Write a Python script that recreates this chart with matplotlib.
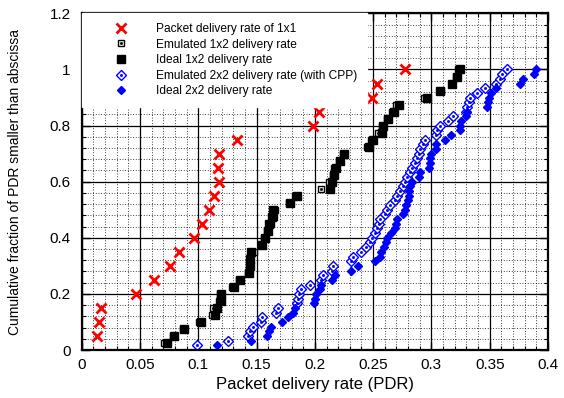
import matplotlib
matplotlib.use('Agg')
import matplotlib.pyplot as plt
import numpy as np

plt.rcParams['font.family'] = ['Liberation Sans', 'DejaVu Sans']

# 1x1 packet delivery rate (20 links)
pdr_1x1 = [0.0129, 0.0151, 0.0163, 0.0465, 0.062, 0.0757, 0.0831, 0.0963, 0.1029, 0.1089,
           0.1134, 0.118, 0.117, 0.118, 0.1329, 0.198, 0.2037, 0.2494, 0.2529, 0.2774]

# 1x2 emulated / ideal (40 points)
emu_1x2 = [0.0705, 0.0785, 0.087, 0.101, 0.112, 0.113, 0.118, 0.119, 0.129, 0.135,
           0.143, 0.1435, 0.1445, 0.148, 0.154, 0.156, 0.159, 0.1625, 0.165, 0.1655,
           0.178, 0.183, 0.2057, 0.2125, 0.2155, 0.2165, 0.2205, 0.2245, 0.245, 0.2485,
           0.2545, 0.2575, 0.262, 0.2665, 0.2695, 0.294, 0.3085, 0.3175, 0.321, 0.3228]
ideal_1x2 = [0.0734, 0.0794, 0.088, 0.1023, 0.1145, 0.116, 0.1191, 0.1197, 0.1308, 0.1357,
             0.1434, 0.144, 0.1442, 0.1451, 0.1548, 0.157, 0.16, 0.1608, 0.1634, 0.1642,
             0.1785, 0.1843, 0.2134, 0.2145, 0.2163, 0.218, 0.222, 0.2254, 0.2465, 0.25,
             0.2574, 0.2585, 0.2631, 0.2677, 0.272, 0.296, 0.307, 0.318, 0.322, 0.3248]

# 2x2 emulated (with CPP) / ideal (60 points)
emu_2x2 = [0.0986, 0.1257, 0.1423, 0.1443, 0.1466, 0.1537, 0.1545, 0.167, 0.1686, 0.1848,
           0.1857, 0.1865, 0.188, 0.1957, 0.2057, 0.2071, 0.2151, 0.2157, 0.2314, 0.2328,
           0.2394, 0.2443, 0.2471, 0.249, 0.2514, 0.2534, 0.2551, 0.2557, 0.26, 0.262,
           0.2643, 0.2685, 0.2708, 0.2728, 0.2757, 0.2775, 0.279, 0.2814, 0.2837, 0.2863,
           0.288, 0.2894, 0.2906, 0.2928, 0.2948, 0.3037, 0.3048, 0.3071, 0.3142, 0.3185,
           0.3294, 0.3305, 0.3322, 0.3328, 0.3391, 0.3457, 0.3557, 0.3585, 0.3608, 0.3648]
ideal_2x2 = [0.116, 0.1449, 0.159, 0.1605, 0.162, 0.1714, 0.177, 0.1814, 0.1828, 0.1991,
             0.2, 0.2014, 0.2043, 0.2051, 0.2151, 0.2171, 0.2308, 0.2371, 0.2514, 0.2557,
             0.2571, 0.2594, 0.2614, 0.2616, 0.2651, 0.2685, 0.27, 0.2706, 0.2757, 0.2771,
             0.2786, 0.28, 0.2805, 0.281, 0.2814, 0.2837, 0.2894, 0.29, 0.2977, 0.2985,
             0.2991, 0.3, 0.3037, 0.3043, 0.3114, 0.3171, 0.3243, 0.3248, 0.3257, 0.3294,
             0.3305, 0.3477, 0.3485, 0.3494, 0.3514, 0.3551, 0.3763, 0.3786, 0.3877, 0.3894]

xticks = [0, 0.05, 0.1, 0.15, 0.2, 0.25, 0.3, 0.35, 0.4]
xlabels = ['0', '0.05', '0.1', '0.15', '0.2', '0.25', '0.3', '0.35', '0.4']
yticks = [0, 0.2, 0.4, 0.6, 0.8, 1.0, 1.2]
ylabels = ['0', '0.2', '0.4', '0.6', '0.8', '1', '1.2']


def cdf(v):
    n = len(v)
    return np.arange(1, n + 1) / n


fig = plt.figure(figsize=(5.64, 3.98), dpi=100)
ax = fig.add_axes([81.7 / 564, 48 / 398, (548 - 81.7) / 564, (350 - 13.4) / 398])

ax.set_xlim(0, 0.4)
ax.set_ylim(0, 1.2)
ax.set_xticks(xticks)
ax.set_xticklabels(xlabels)
ax.set_xticks(np.arange(0, 0.4001, 0.01), minor=True)
ax.set_yticks(yticks)
ax.set_yticklabels(ylabels)
ax.set_yticks(np.arange(0, 1.2001, 0.04), minor=True)
ax.set_axisbelow(True)
ax.grid(which='major', color='black', lw=0.9, ls='-')
ax.grid(which='minor', color='black', lw=0.6, ls=(0, (1, 2.2)))
ax.tick_params(which='both', direction='in', top=True, right=True, labelsize=11)
ax.tick_params(axis='x', pad=6)
ax.tick_params(axis='y', pad=8)
ax.tick_params(which='major', length=6, width=1)
ax.tick_params(which='minor', length=3, width=0.8)
for s in ax.spines.values():
    s.set_linewidth(1.6)

h1, = ax.plot(pdr_1x1, cdf(pdr_1x1), ls='none', marker='x', color='#ff0000', ms=6.5, mew=2)
h2a, = ax.plot(emu_1x2, cdf(emu_1x2), ls='none', marker='s', mfc='white', mec='black', ms=5, mew=1)
h2b, = ax.plot(emu_1x2, cdf(emu_1x2), ls='none', marker='s', color='black', ms=1)
h3, = ax.plot(ideal_1x2, cdf(ideal_1x2), ls='none', marker='s', color='black', ms=5.4)
h4a, = ax.plot(emu_2x2, cdf(emu_2x2), ls='none', marker='D', mfc='white', mec='#0000ff', ms=4.6, mew=1)
h4b, = ax.plot(emu_2x2, cdf(emu_2x2), ls='none', marker='s', color='#0000ff', ms=1)
h5, = ax.plot(ideal_2x2, cdf(ideal_2x2), ls='none', marker='D', color='#0000ff', ms=4.4)

leg = ax.legend([h1, (h2a, h2b), h3, (h4a, h4b), h5],
                ['Packet delivery rate of 1x1', 'Emulated 1x2 delivery rate',
                 'Ideal 1x2 delivery rate', 'Emulated 2x2 delivery rate (with CPP)',
                 'Ideal 2x2 delivery rate'],
                loc='upper left', fontsize=8.6, handlelength=4.95, handletextpad=0.5,
                labelspacing=0.3, borderaxespad=0, borderpad=0.8,
                frameon=True, fancybox=False, framealpha=1, edgecolor='white')

ax.set_xlabel('Packet delivery rate (PDR)', fontsize=12, labelpad=3)
ax.set_ylabel('Cumulative fraction of PDR smaller than abscissa', fontsize=10, labelpad=20)

fig.savefig('out.png', dpi=100)
